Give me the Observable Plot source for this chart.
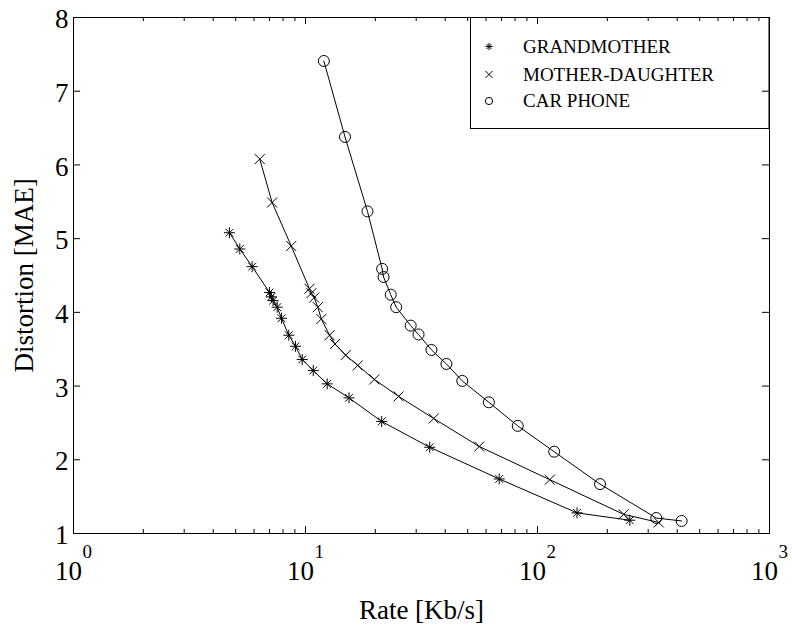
<!DOCTYPE html>
<html><head><meta charset="utf-8">
<script src="https://cdn.jsdelivr.net/npm/d3@7"></script>
<script src="https://cdn.jsdelivr.net/npm/@observablehq/plot@0.6"></script>
<style>body{margin:0;background:#fff;}</style>
</head><body><div id="chart"></div>
<script>
// ---- data ----
const seriesNames = ["GRANDMOTHER", "MOTHER-DAUGHTER", "CAR PHONE"];
const grandmotherRate = [4.70, 5.21, 5.89, 7.0, 7.13, 7.25, 7.55, 7.88, 8.47, 9.06, 9.68, 10.8, 12.4, 15.4, 21.3, 34.3, 68.4, 148, 250];
const grandmotherMAE  = [5.08, 4.86, 4.62, 4.27, 4.21, 4.16, 4.07, 3.92, 3.69, 3.54, 3.36, 3.21, 3.03, 2.84, 2.52, 2.17, 1.74, 1.28, 1.18];
const motherRate = [6.35, 7.18, 8.68, 10.4, 10.6, 10.9, 11.3, 11.7, 12.7, 13.4, 14.9, 16.8, 19.8, 25.2, 35.7, 56.1, 113, 235, 333];
const motherMAE  = [6.08, 5.49, 4.90, 4.32, 4.26, 4.20, 4.07, 3.91, 3.69, 3.57, 3.42, 3.28, 3.09, 2.86, 2.56, 2.18, 1.73, 1.26, 1.15];
const carRate = [12.0, 14.8, 18.5, 21.4, 21.7, 23.3, 24.6, 28.4, 30.7, 34.9, 40.5, 47.4, 61.7, 82.2, 118, 186, 325, 418];
const carMAE  = [7.41, 6.38, 5.37, 4.59, 4.48, 4.24, 4.07, 3.82, 3.70, 3.49, 3.30, 3.07, 2.78, 2.46, 2.11, 1.67, 1.21, 1.17];
const xTicks = [1, 10, 100, 1000];
const xTickExponents = ["0", "1", "2", "3"];
const yTicks = [1, 2, 3, 4, 5, 6, 7, 8];
const xLabel = "Rate [Kb/s]";
const yLabel = "Distortion [MAE]";

const toRows = (rates, maes) => rates.map((r, i) => ({rate: r, mae: maes[i]}));
const gm = toRows(grandmotherRate, grandmotherMAE);
const md = toRows(motherRate, motherMAE);
const cp = toRows(carRate, carMAE);

const xMinor = [];
for (const k of [1, 10, 100]) for (let m = 2; m <= 9; m++) xMinor.push(k * m);

// custom MATLAB-like symbols
const symTimes = {draw(ctx, size) {const r = Math.sqrt(size / Math.PI);
  ctx.moveTo(-r, -r); ctx.lineTo(r, r); ctx.moveTo(-r, r); ctx.lineTo(r, -r);}};
const symStar = {draw(ctx, size) {const r = Math.sqrt(size / Math.PI), d = r * Math.SQRT1_2;
  ctx.moveTo(-r, 0); ctx.lineTo(r, 0); ctx.moveTo(0, -r); ctx.lineTo(0, r);
  ctx.moveTo(-d, -d); ctx.lineTo(d, d); ctx.moveTo(-d, d); ctx.lineTo(d, -d);}};

const W = 792, H = 628, mL = 73, mR = 23, mT = 17, mB = 95;
const plotW = W - mL - mR, plotH = H - mT - mB;
const FONT = "'Liberation Serif','Times New Roman',Times,serif";
const FS = 27;

function legendMark() {
  const g = d3.create("svg:g").attr("font-family", FONT);
  g.append("rect").attr("x", 470.5).attr("y", mT + 0.5).attr("width", W - mR - 470.5).attr("height", 111)
    .attr("fill", "white").attr("stroke", "black").attr("stroke-width", 1);
  const syms = [symStar, symTimes, d3.symbolCircle];
  const rows = [46.5, 74.5, 101];
  seriesNames.forEach((name, i) => {
    const r = 3.6;
    g.append("path").attr("transform", `translate(489,${rows[i]})`)
      .attr("d", d3.symbol(syms[i], r * r * Math.PI)())
      .attr("fill", "none").attr("stroke", "black").attr("stroke-width", 1);
    g.append("text").attr("x", 523).attr("y", rows[i] + 6).attr("font-size", 19)
      .attr("text-anchor", "start").attr("fill", "black").text(name);
  });
  return g.node();
}

const dotOpts = {x: "rate", y: "mae", r: 5.5, stroke: "black", strokeWidth: 1, fill: "none"};
const lineOpts = {x: "rate", y: "mae", stroke: "black", strokeWidth: 1};

const chart = Plot.plot({
  width: W, height: H,
  marginLeft: mL, marginRight: mR, marginTop: mT, marginBottom: mB,
  style: {fontFamily: FONT, background: "white", color: "black", overflow: "visible"},
  x: {type: "log", domain: [1, 1000], axis: null},
  y: {domain: [1, 8], axis: null},
  marks: [
    Plot.line(gm, lineOpts),
    Plot.line(md, lineOpts),
    Plot.line(cp, lineOpts),
    Plot.dot(gm, {...dotOpts, symbol: symStar, r: 5.5}),
    Plot.dot(md, {...dotOpts, symbol: symTimes, r: 5}),
    Plot.dot(cp, {...dotOpts, symbol: "circle", r: 5.5}),
    legendMark,
    Plot.frame({stroke: "black", strokeWidth: 1}),
    Plot.tickX(xTicks, {x: d => d, insetTop: plotH - 7, stroke: "black"}),
    Plot.tickX(xTicks, {x: d => d, insetBottom: plotH - 7, stroke: "black"}),
    Plot.tickX(xMinor, {x: d => d, insetTop: plotH - 4, stroke: "black"}),
    Plot.tickX(xMinor, {x: d => d, insetBottom: plotH - 4, stroke: "black"}),
    Plot.tickY(yTicks, {y: d => d, insetRight: plotW - 7, stroke: "black"}),
    Plot.tickY(yTicks, {y: d => d, insetLeft: plotW - 7, stroke: "black"}),
    Plot.text(xTicks, {x: d => d, text: () => "10", frameAnchor: "bottom", lineAnchor: "middle", textAnchor: "middle", dy: 38, dx: -5, fontSize: FS, fill: "black"}),
    Plot.text(xTicks, {x: d => d, text: (d, i) => xTickExponents[i], frameAnchor: "bottom", lineAnchor: "middle", textAnchor: "start", dy: 18, dx: 9, fontSize: 19, fill: "black"}),
    Plot.text(yTicks, {y: d => d, text: d => String(d), frameAnchor: "left", lineAnchor: "middle", textAnchor: "end", dx: -5, dy: 2, fontSize: FS, fill: "black"}),
    Plot.text([xLabel], {text: d => d, frameAnchor: "bottom", lineAnchor: "middle", textAnchor: "middle", dy: 77, fontSize: FS, fill: "black"}),
    Plot.text([yLabel], {text: d => d, frameAnchor: "left", lineAnchor: "middle", textAnchor: "middle", dx: -49, rotate: -90, fontSize: FS, fill: "black"})
  ]
});
document.getElementById("chart").appendChild(chart);
</script>
</body></html>
